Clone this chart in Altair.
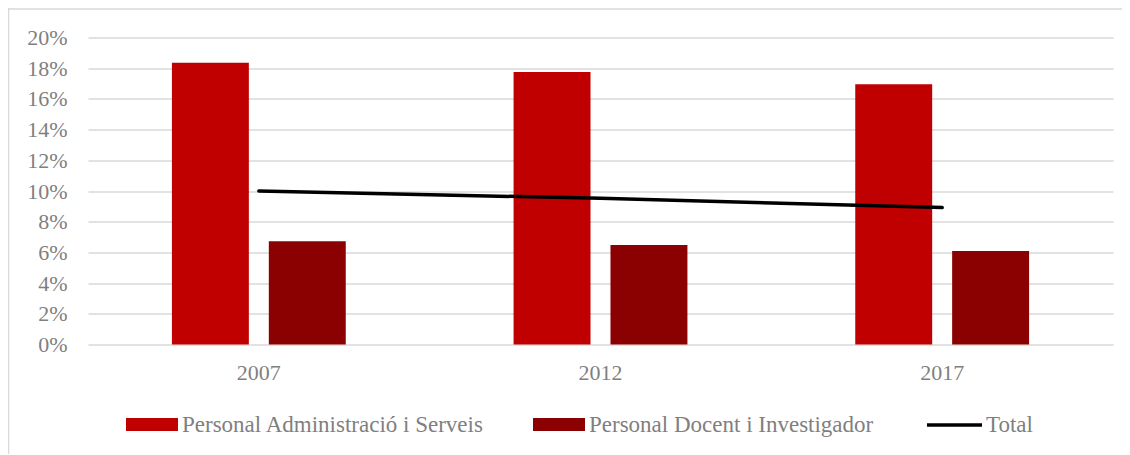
import altair as alt
import pandas as pd

years = ["2007", "2012", "2017"]
pas = [0.1835, 0.1775, 0.1695]
pdi = [0.0672, 0.0648, 0.0609]
total = [0.1000, 0.0952, 0.0892]

PAS = "Personal Administració i Serveis"
PDI = "Personal Docent i Investigador"
TOT = "Total"

bars = pd.DataFrame({
    "year": years * 2,
    "serie": [PAS] * 3 + [PDI] * 3,
    "value": pas + pdi,
})
line = pd.DataFrame({"year": years, "serie": [TOT] * 3, "value": total})

W, H = 1025, 307
FONT = "Liberation Serif"
GRAY = "#7F7F7F"

xscale = alt.Scale(domain=years, paddingInner=0, paddingOuter=0)
yscale = alt.Scale(domain=[0, 0.2], nice=False)

xaxis = alt.Axis(title=None, ticks=False, domain=False, grid=False, labelFont=FONT,
                 labelFontSize=22, labelColor=GRAY, labelPadding=18, labelAngle=0)
yaxis = alt.Axis(title=None, ticks=False, domain=False, grid=True, gridColor="#D9D9D9",
                 gridWidth=1.3, format=".0%", values=[i / 100 for i in range(0, 21, 2)],
                 labelFont=FONT, labelFontSize=22, labelColor=GRAY, labelPadding=21)

bar_chart = alt.Chart(bars).mark_bar().encode(
    x=alt.X("year:N", scale=xscale, axis=xaxis, sort=years),
    xOffset=alt.XOffset("serie:N", sort=[PAS, PDI],
                        scale=alt.Scale(domain=[PAS, PDI], paddingInner=0.206, paddingOuter=0.866)),
    y=alt.Y("value:Q", scale=yscale, axis=yaxis),
    fill=alt.Fill("serie:N", scale=alt.Scale(domain=[PAS, PDI], range=["#C00000", "#8B0000"]),
                  legend=alt.Legend(title=None, orient="none", legendX=38, legendY=361,
                                    direction="horizontal", padding=0,
                                    symbolType="M-1,-0.25L1,-0.25L1,0.25L-1,0.25Z",
                                    symbolSize=2704, symbolStrokeWidth=0,
                                    labelFont=FONT, labelFontSize=23, labelColor=GRAY,
                                    labelOffset=4, columnPadding=48, labelLimit=0)),
)

line_chart = alt.Chart(line).mark_line(strokeWidth=3.5, strokeCap="round").encode(
    x=alt.X("year:N", scale=xscale, axis=xaxis, sort=years),
    y=alt.Y("value:Q", scale=yscale, axis=yaxis),
    stroke=alt.Stroke("serie:N", scale=alt.Scale(domain=[TOT], range=["#000000"]),
                      legend=alt.Legend(title=None, orient="none", legendX=837, legendY=358,
                                        direction="horizontal", padding=0,
                                        symbolType="stroke", symbolSize=3025,
                                        symbolStrokeWidth=3.5,
                                        labelFont=FONT, labelFontSize=23, labelColor=GRAY,
                                        labelOffset=2, labelLimit=0)),
)

frame = pd.DataFrame({"a": [0]})
top_rule = alt.Chart(frame).mark_rule(color="#D9D9D9", strokeWidth=1.5).encode(
    x=alt.value(-81), x2=alt.value(W + 20), y=alt.value(-28.5))
left_rule = alt.Chart(frame).mark_rule(color="#D9D9D9", strokeWidth=1.5).encode(
    x=alt.value(-79.5), y=alt.value(-30), y2=alt.value(H + 120))

chart = alt.layer(top_rule, left_rule, bar_chart, line_chart).resolve_scale(
    fill="independent", stroke="independent"
).properties(
    width=W, height=H,
    autosize=alt.AutoSizeParams(type="none"),
    padding={"left": 80, "top": 29.5, "right": 9, "bottom": 109},
    background="white",
).configure_view(stroke=None)

chart.save("out.html", embed_options={"renderer": "svg", "actions": False})
